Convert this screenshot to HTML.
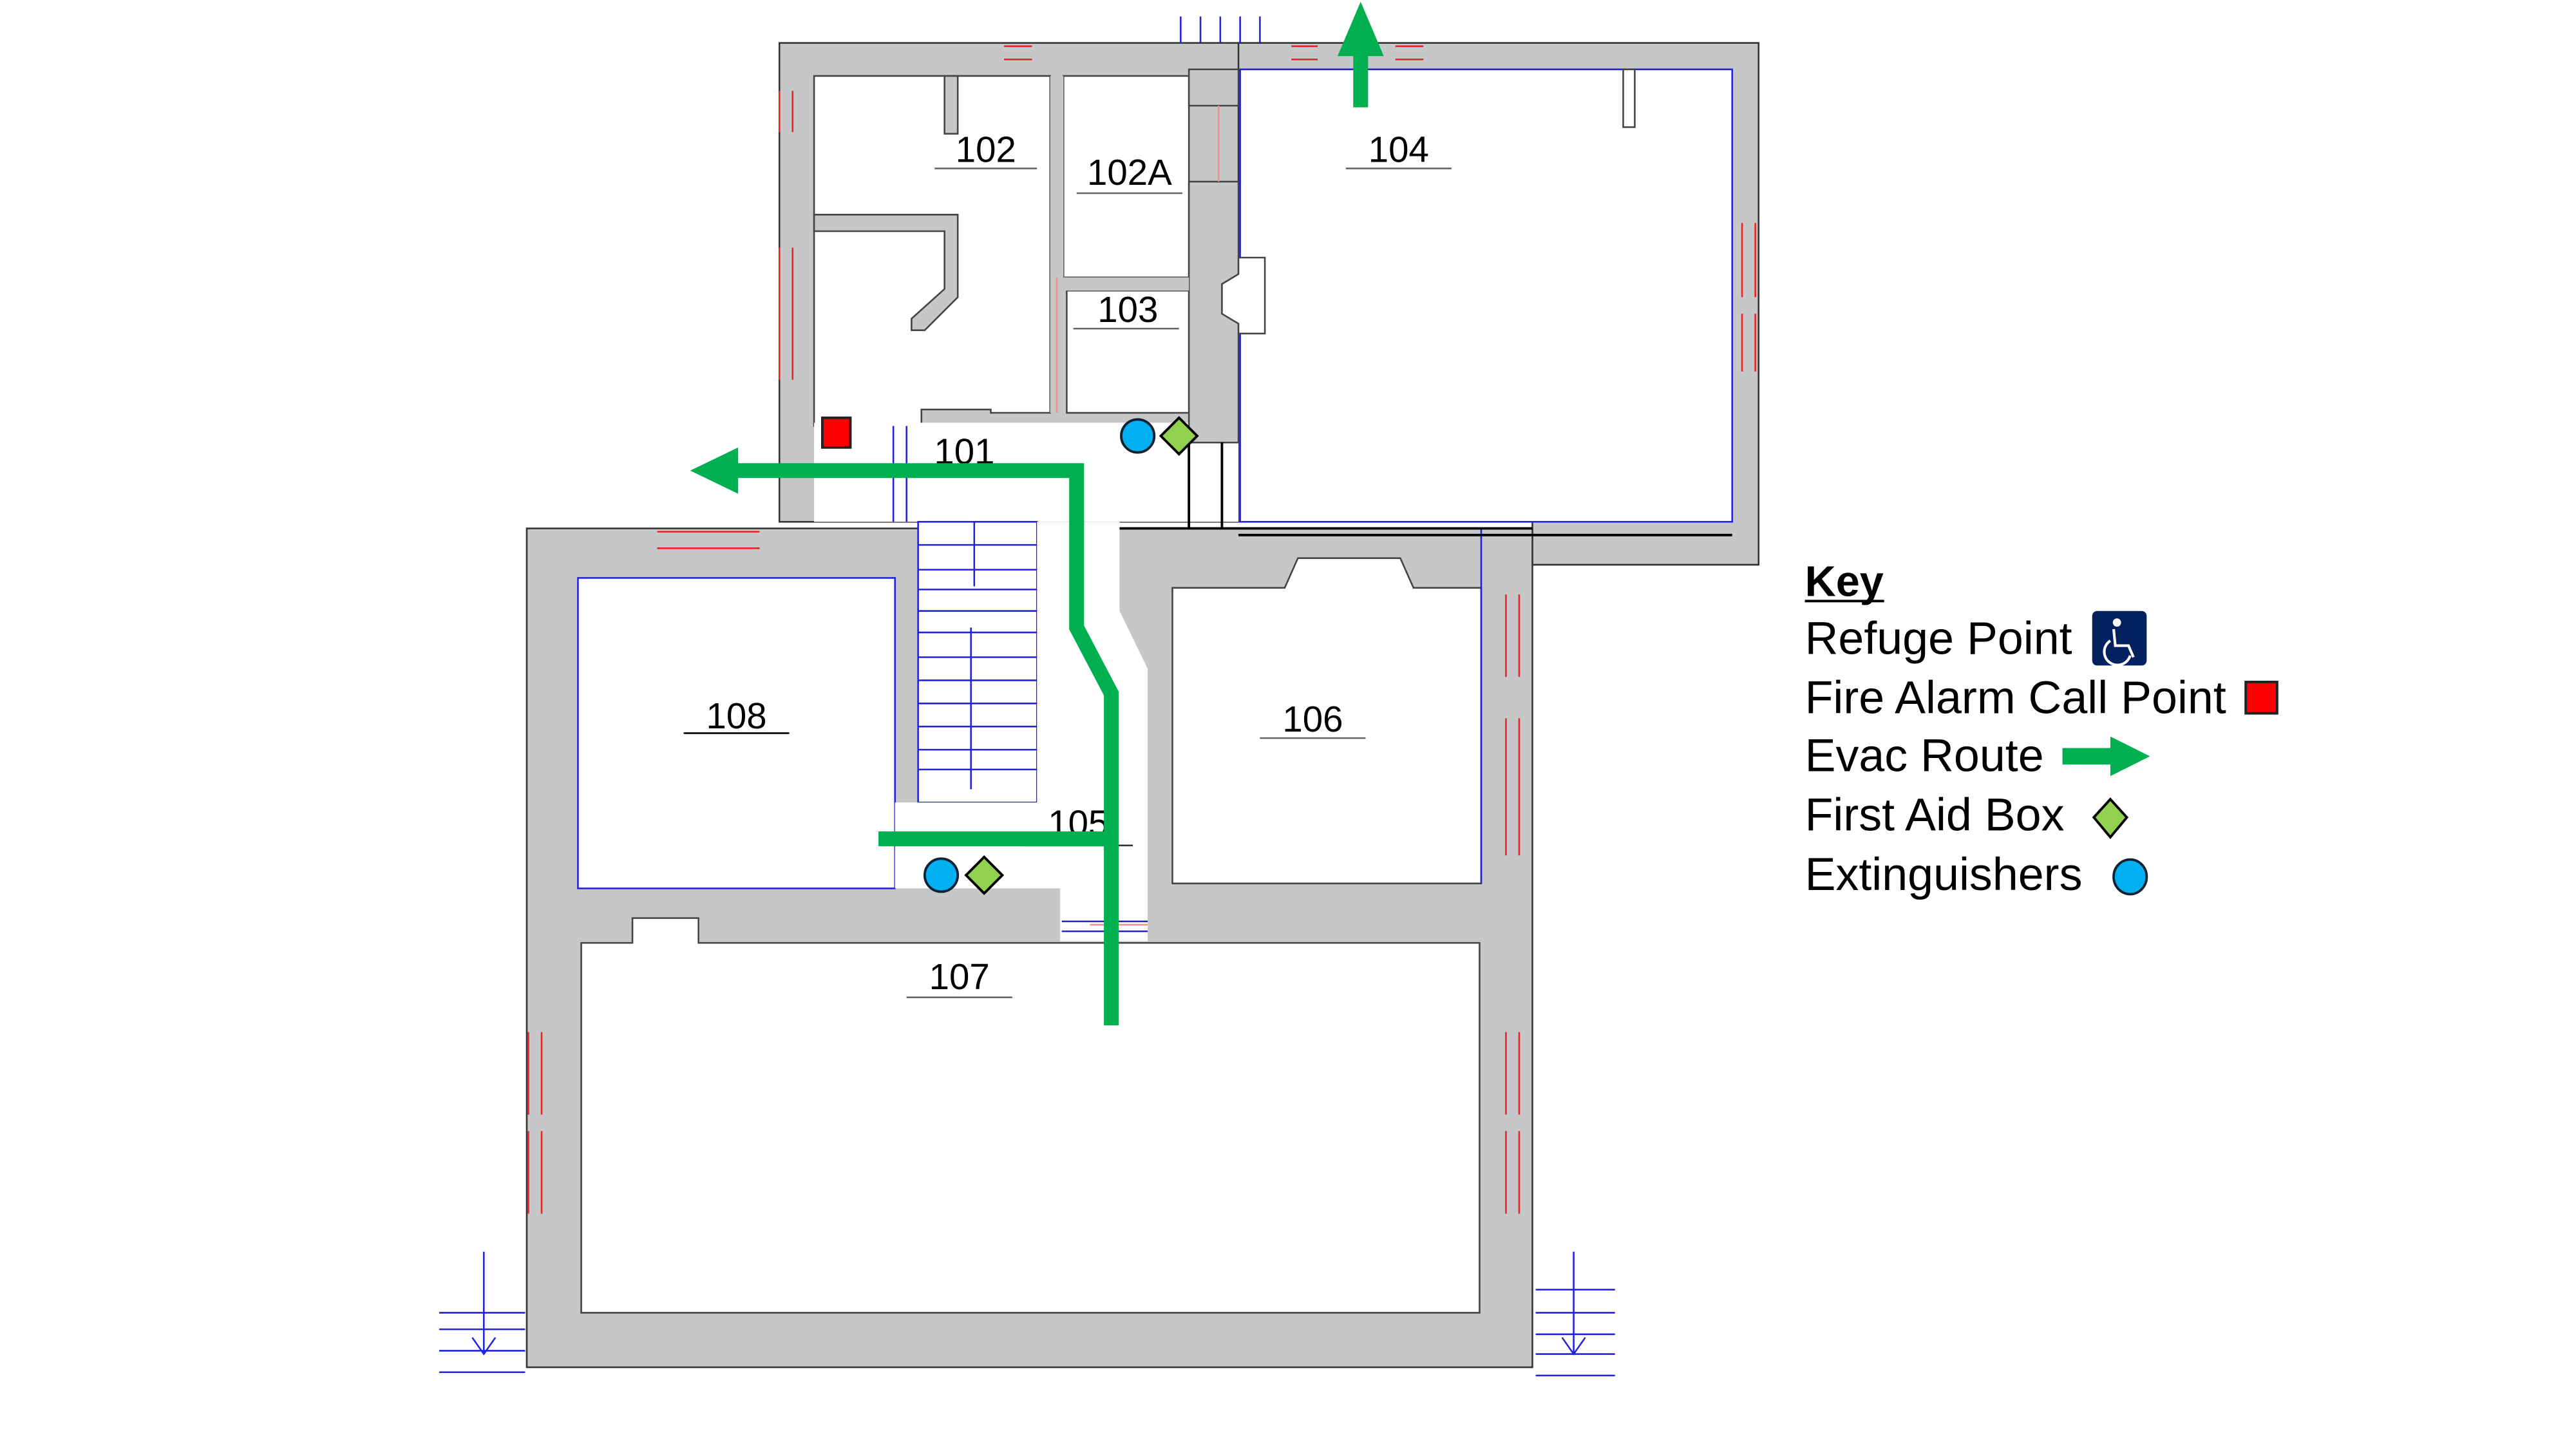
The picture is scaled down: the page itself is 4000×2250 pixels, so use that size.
<!DOCTYPE html>
<html><head><meta charset="utf-8"><style>
html,body{margin:0;padding:0;background:#fff;}
svg{display:block;}
text{font-family:"Liberation Sans",sans-serif;}
</style></head><body>
<svg width="4000" height="2250" viewBox="0 0 1560 877.5" preserveAspectRatio="none" xmlns="http://www.w3.org/2000/svg">
<rect width="1560" height="878" fill="#fff"/>
<g stroke="#333" stroke-width="1">
<rect x="472" y="26" width="280" height="290" fill="#c6c7c9"/>
<path d="M750 26 H1065 V342 H928 V316 H750 Z" fill="#c6c7c9"/>
<rect x="319" y="320" width="609" height="508" fill="#c6c7c9"/>
</g>
<g fill="#fff" stroke="#444" stroke-width="1">
<path d="M493 46 H636 V250 H600 V248 H558 V258 H493 Z"/>
<rect x="644" y="46" width="76" height="122"/>
<rect x="646" y="176" width="74" height="74"/>
<rect x="493" y="256" width="257" height="60" stroke="none"/>
<rect x="751" y="42" width="298" height="274" stroke="#2222dd"/>
<rect x="350" y="350" width="192" height="188" stroke="#2222dd"/>
<rect x="556" y="316" width="72" height="170" stroke="#2222dd"/>
<path d="M628 316 H678 V370 L695 405 V570 H642 V538 H542 V486 H628 Z" stroke="none"/>
<path d="M710 356 H778 L786 338 H848 L856 356 H897 V535 H710 Z"/>
<path d="M352 571 H383 V556 H423 V571 H896 V795 H352 Z"/>
</g>
<g fill="#c6c7c9" stroke="#444" stroke-width="1">
<path d="M493 130 H580 V180 L560 200 H552 V193 L572 175 V140 H493 Z"/>
<rect x="572" y="46" width="8" height="35"/>
<rect x="720" y="110" width="30" height="158"/>
<rect x="720" y="42" width="30" height="22"/>
<path d="M750 156 H766 V202 H750 V196 L740 190 V172 L750 166 Z" fill="#fff"/>
<rect x="636" y="46" width="8" height="204" stroke="none"/>
<rect x="644" y="168" width="76" height="8" stroke="none"/>
<rect x="983" y="42" width="7" height="35" fill="#fff"/>
</g>
<g stroke="#e22" stroke-width="1" fill="none">
<path d="M472 55 V80 M480 55 V80 M472 150 V230 M480 150 V230 M1055 135 V180 M1063 135 V180 M1055 190 V225 M1063 190 V225"/>
<path d="M398 322 H460 M398 332 H460"/>
<path d="M912 360 V410 M920 360 V410 M912 435 V518 M920 435 V518 M912 625 V675 M920 625 V675 M912 685 V735 M920 685 V735"/>
<path d="M320 625 V675 M328 625 V675 M320 685 V735 M328 685 V735"/>
<path d="M608 28 H625 M608 36 H625 M782 28 H798 M782 36 H798 M845 28 H862 M845 36 H862"/>
<path d="M640 168 V250 M738 64 V110 M660 560 H695" stroke="#f88"/>
</g>
<g stroke="#2222dd" stroke-width="1" fill="none">
<path d="M715 10 V26 M727 10 V26 M739 10 V26 M751 10 V26 M763 10 V26"/>
<path d="M541 258 V316 M549 258 V316"/>
<path d="M556 330 H628 M556 345 H628 M556 357 H628 M556 370 H628 M556 383 H628 M556 398 H628 M556 412 H628 M556 426 H628 M556 440 H628 M556 454 H628 M556 466 H628 M590 316 V355 M588 380 V478"/>
<path d="M643 558 H695 M643 564 H695"/>
<path d="M266 795 H318 M266 805 H318 M266 818 H318 M266 831 H318 M293 758 V820 M286 810 L293 820 L300 810"/>
<path d="M930 781 H978 M930 795 H978 M930 808 H978 M930 820 H978 M930 833 H978 M953 758 V820 M946 810 L953 820 L960 810"/>
<path d="M897 320 V535"/>
</g>
<g stroke="#000" stroke-width="1.5" fill="none">
<path d="M720 264 V320 M740 268 V320 M678 320 H928 M750 324 H1049"/>
</g>
<g font-size="22" fill="#000" text-anchor="middle">
<text x="597" y="98">102</text><path d="M566 102 H628" stroke="#666"/>
<text x="684" y="112">102A</text><path d="M652 117 H716" stroke="#666"/>
<text x="847" y="98">104</text><path d="M815 102 H879" stroke="#666"/>
<text x="683" y="195">103</text><path d="M650 199 H714" stroke="#666"/>
<text x="584" y="281">101</text>
<text x="446" y="441">108</text><path d="M414 444 H478" stroke="#000"/>
<text x="795" y="443">106</text><path d="M763 447 H827" stroke="#666"/>
<text x="653" y="506">105</text><path d="M620 512 H686" stroke="#333"/>
<text x="581" y="599">107</text><path d="M549 604 H613" stroke="#666"/>
</g>
<g stroke="#00b050" stroke-width="9" fill="none">
<path d="M445 285 H652 V380 L673 420 V621"/>
<path d="M532 508 H673"/>
<path d="M824 65 V30"/>
</g>
<polygon points="418,285 447,271 447,299" fill="#00b050"/>
<polygon points="824,1 810,34 838,34" fill="#00b050"/>
<rect x="498" y="253" width="17" height="18" fill="#f00" stroke="#222" stroke-width="1.5"/>
<ellipse cx="689" cy="264" rx="10" ry="10" fill="#00b0f0" stroke="#123" stroke-width="1.5"/>
<polygon points="714,253 725,264 714,275 703,264" fill="#92d050" stroke="#000" stroke-width="1.5"/>
<ellipse cx="570" cy="530" rx="10" ry="10" fill="#00b0f0" stroke="#123" stroke-width="1.5"/>
<polygon points="596,519 607,530 596,541 585,530" fill="#92d050" stroke="#000" stroke-width="1.5"/>
<g font-size="28" fill="#000">
<text x="1093" y="361" font-weight="bold" font-size="26">Key</text>
<path d="M1093 364 H1141" stroke="#000" stroke-width="1.5"/>
<text x="1093" y="396">Refuge Point</text>
<text x="1093" y="432">Fire Alarm Call Point</text>
<text x="1093" y="467">Evac Route</text>
<text x="1093" y="503">First Aid Box</text>
<text x="1093" y="539">Extinguishers</text>
</g>
<rect x="1267" y="370" width="33" height="33" rx="3" fill="#03215f"/>
<circle cx="1282" cy="377" r="2.5" fill="#fff"/>
<path d="M1280 381 L1281 391 H1289 L1292 398 M1278 388 A8 8 0 1 0 1290 397" stroke="#fff" stroke-width="1.6" fill="none"/>
<rect x="1360" y="413" width="19" height="19" fill="#f00" stroke="#222" stroke-width="1.5"/>
<rect x="1249" y="453" width="30" height="10" fill="#00b050"/>
<polygon points="1278,446 1302,458 1278,470" fill="#00b050"/>
<polygon points="1278,484 1288,495 1278,507 1268,495" fill="#92d050" stroke="#000" stroke-width="1.5"/>
<ellipse cx="1290" cy="531" rx="10" ry="10.5" fill="#00b0f0" stroke="#123" stroke-width="1.5"/>
</svg>
</body></html>
